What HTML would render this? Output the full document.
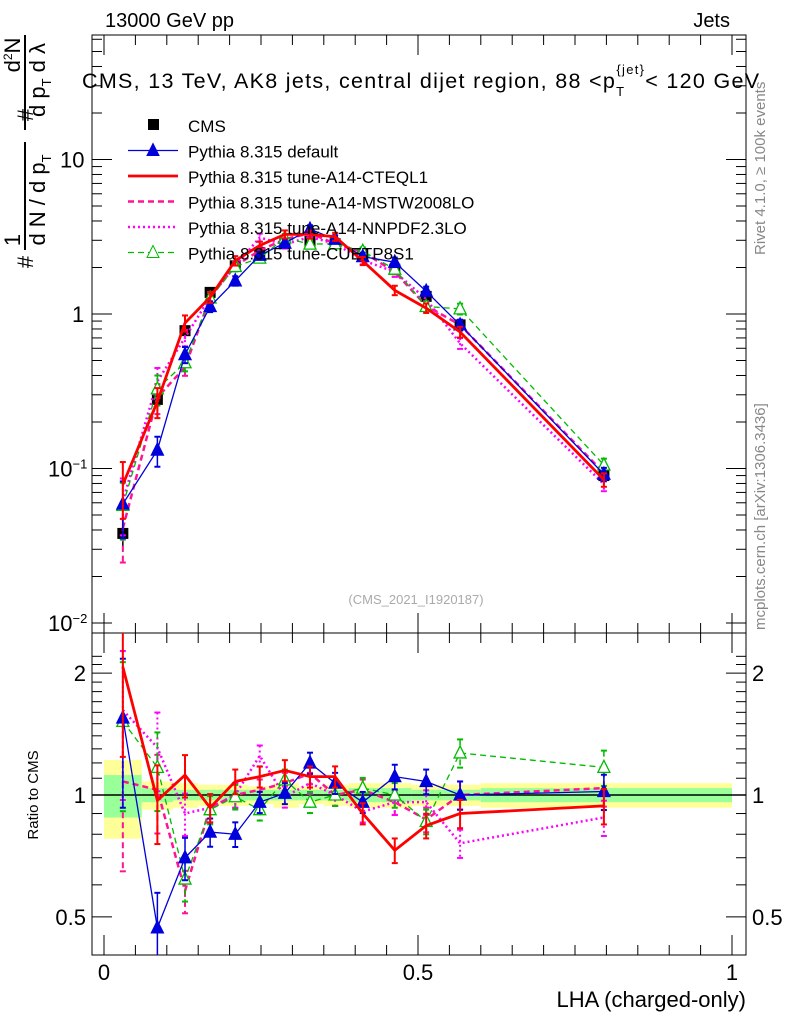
<!DOCTYPE html>
<html><head><meta charset="utf-8"><style>
body{margin:0;background:#fff;font-family:"Liberation Sans",sans-serif}
svg text{font-family:"Liberation Sans",sans-serif}
</style></head><body>
<svg id="c" width="786" height="1024" xmlns="http://www.w3.org/2000/svg"></svg>
<script>
const xs=[0.03,0.085,0.129,0.169,0.209,0.248,0.288,0.328,0.368,0.412,0.463,0.513,0.567,0.796];
const edges=[0,0.06,0.11,0.15,0.19,0.23,0.27,0.31,0.35,0.39,0.44,0.49,0.54,0.6,1.0];
const cms=[0.038,0.28,0.78,1.38,2.05,2.5,2.85,2.95,2.85,2.45,1.95,1.3,0.85,0.09];
const bandY=[0.22,0.08,0.07,0.06,0.06,0.05,0.07,0.05,0.06,0.07,0.07,0.06,0.06,0.07];
const bandG=[0.12,0.04,0.03,0.03,0.03,0.03,0.03,0.03,0.03,0.04,0.04,0.03,0.03,0.04];
const rBlue=[1.55,0.47,0.70,0.81,0.80,0.96,1.01,1.2,1.07,0.96,1.11,1.08,1.0,1.02];
const rRed=[2.07,0.97,1.12,0.93,1.08,1.11,1.15,1.11,1.11,0.90,0.73,0.84,0.90,0.94];
const rMstw=[1.08,1.03,0.58,0.93,1.0,1.03,1.07,1.13,1.0,1.03,0.96,0.87,1.0,1.04];
const rNnpdf=[1.62,1.31,0.9,0.93,1.0,1.25,0.99,1.07,1.0,0.91,0.96,0.96,0.76,0.88];
const rGreen=[1.52,1.17,0.62,0.92,0.99,0.92,1.09,0.96,1.0,1.04,1.0,0.86,1.27,1.17];
const errs=[0.4,0.22,0.12,0.08,0.07,0.06,0.06,0.06,0.06,0.06,0.07,0.07,0.08,0.1];
const S=document.getElementById('c');const NS='http://www.w3.org/2000/svg';
function el(t,a,txt){const e=document.createElementNS(NS,t);for(const k in a)e.setAttribute(k,a[k]);if(txt!==undefined)e.textContent=txt;S.appendChild(e);return e;}
const X=v=>104+628*v;
const YM=v=>314-154.5*Math.log10(v);
const YR=v=>795-405*Math.log10(v);
const L=92,R=746,T1=35,B1=633,B2=955;
for(let i=0;i<cms.length;i++){
 let e=el('rect',{x:X(edges[i]),y:YR(1+bandY[i]),width:X(edges[i+1])-X(edges[i]),height:YR(1-bandY[i])-YR(1+bandY[i]),fill:'#ffff99'});
 
 e=el('rect',{x:X(edges[i]),y:YR(1+bandG[i]),width:X(edges[i+1])-X(edges[i]),height:YR(1-bandG[i])-YR(1+bandG[i]),fill:'#99ff99'});
 
}
el('line',{x1:L,x2:R,y1:YR(1),y2:YR(1),stroke:'#000','stroke-width':1.5});
el('rect',{x:L,y:T1,width:R-L,height:B1-T1,fill:'none',stroke:'#000'});
el('rect',{x:L,y:B1,width:R-L,height:B2-B1,fill:'none',stroke:'#000'});
for(let d=-2;d<=1;d++){for(let m=1;m<10;m++){const v=m*Math.pow(10,d);const y=YM(v);if(y<T1||y>B1)continue;const l=m==1?20:10;
 el('line',{x1:L,x2:L+l,y1:y,y2:y,stroke:'#000'});el('line',{x1:R,x2:R-l,y1:y,y2:y,stroke:'#000'});}}
const ytl=[['10<tspan dy="-8" font-size="13">−2</tspan>',0.01],['10<tspan dy="-8" font-size="13">−1</tspan>',0.1],['1',1],['10',10]];
ytl.forEach(t=>{const e=el('text',{x:t[1]<0.5?48:(t[1]==1?72:60),y:YM(t[1])+8,'font-size':22});e.innerHTML=t[0];});
[0.5,0.6,0.7,0.8,0.9,1,1.1,1.2,1.3,1.4,1.5,1.6,1.7,1.8,1.9,2,2.1,2.2].forEach(v=>{const y=YR(v);const l=(v==0.5||v==1||v==2)?20:10;
 el('line',{x1:L,x2:L+l,y1:y,y2:y,stroke:'#000'});el('line',{x1:R,x2:R-l,y1:y,y2:y,stroke:'#000'});});
[[0.5,'0.5'],[1,'1'],[2,'2']].forEach(t=>{el('text',{x:L-6,y:YR(t[0])+8,'font-size':22,'text-anchor':'end'},t[1]);el('text',{x:R+6,y:YR(t[0])+8,'font-size':22},t[1]);});
for(let v=0;v<=1.0001;v+=0.05){const big=Math.abs(v*2-Math.round(v*2))<1e-6;const l=big?20:10;
 el('line',{x1:X(v),x2:X(v),y1:B2,y2:B2-l,stroke:'#000'});el('line',{x1:X(v),x2:X(v),y1:B1,y2:B1-l,stroke:'#000'});el('line',{x1:X(v),x2:X(v),y1:T1,y2:T1+l,stroke:'#000'});el('line',{x1:X(v),x2:X(v),y1:B1,y2:B1+l,stroke:'#000'});}
[[0,'0'],[0.5,'0.5'],[1,'1']].forEach(t=>el('text',{x:X(t[0]),y:980,'font-size':22,'text-anchor':'middle'},t[1]));
const series=[
 {r:rMstw,c:'#ff1493',w:2.5,d:'6,4',m:'none',n:'mstw'},
 {r:rNnpdf,c:'#ff00ff',w:2.5,d:'2,3',m:'none',n:'nnpdf'},
 {r:rGreen,c:'#00bb00',w:1.3,d:'6,4',m:'open',n:'cuetp'},
 {r:rBlue,c:'#0000dd',w:1.3,d:'',m:'tri',n:'default'},
 {r:rRed,c:'#ff0000',w:2.8,d:'',m:'none',n:'cteql1'}];
function draw(Y,vals,s,panel){
 const pts=vals.map((v,i)=>X(xs[i])+','+Y(v)).join(' ');
 const pl=el('polyline',{points:pts,fill:'none',stroke:s.c,'stroke-width':s.w,'stroke-dasharray':s.d});
 
 vals.forEach((v,i)=>{const e=errs[i];const y1=Y(v*(1+e)),y2=Y(Math.max(v*(1-e),1e-4));
  el('line',{x1:X(xs[i]),x2:X(xs[i]),y1:y1,y2:y2,stroke:s.c,'stroke-width':s.w>2?2:1.5,'stroke-dasharray':s.d});
  el('line',{x1:X(xs[i])-3,x2:X(xs[i])+3,y1:y1,y2:y1,stroke:s.c,'stroke-width':2});
  el('line',{x1:X(xs[i])-3,x2:X(xs[i])+3,y1:y2,y2:y2,stroke:s.c,'stroke-width':2});
  if(s.m!='none'){const x=X(xs[i]),y=Y(v);const t=el('polygon',{points:`${x},${y-7} ${x-6},${y+5} ${x+6},${y+5}`,fill:s.m=='tri'?s.c:'#fff',stroke:s.c,'stroke-width':1.3});
   }
 });
}
cms.forEach((v,i)=>{const x=X(xs[i]),y=YM(v);el('line',{x1:x,x2:x,y1:YM(v*(1+errs[i]*0.6)),y2:YM(v*(1-errs[i]*0.6)),stroke:'#000','stroke-width':1.5});
 const r=el('rect',{x:x-5.5,y:y-5.5,width:11,height:11,fill:'#000'});});
series.forEach(s=>{draw(YM,cms.map((c,i)=>c*s.r[i]),s,'main');});
const clip=el('clipPath',{id:'cr'});const cr=document.createElementNS(NS,'rect');cr.setAttribute('x',L);cr.setAttribute('y',B1);cr.setAttribute('width',R-L);cr.setAttribute('height',B2-B1);clip.appendChild(cr);
const g0=S.childElementCount;
series.forEach(s=>draw(YR,s.r,s,'ratio'));
const gg=document.createElementNS(NS,'g');gg.setAttribute('clip-path','url(#cr)');
while(S.childElementCount>g0)gg.insertBefore(S.lastChild,gg.firstChild);S.appendChild(gg);
const leg=[['CMS','sq','#000','',0],['Pythia 8.315 default','tri','#0000dd','',1.3],['Pythia 8.315 tune-A14-CTEQL1','none','#ff0000','',2.8],['Pythia 8.315 tune-A14-MSTW2008LO','none','#ff1493','6,4',2.5],['Pythia 8.315 tune-A14-NNPDF2.3LO','none','#ff00ff','2,3',2.5],['Pythia 8.315 tune-CUETP8S1','open','#00bb00','6,4',1.3]];
leg.forEach((l,i)=>{const y=125+25.5*i;
 if(l[1]=='sq')el('rect',{x:148,y:y-6,width:11,height:11,fill:'#000'});
 else{el('line',{x1:128,x2:178,y1:y,y2:y,stroke:l[2],'stroke-width':l[4],'stroke-dasharray':l[3]});
  if(l[1]!='none')el('polygon',{points:`153,${y-7} 147,${y+5} 159,${y+5}`,fill:l[1]=='tri'?l[2]:'#fff',stroke:l[2]});}
 const t=el('text',{x:188,y:y+7,'font-size':17},l[0]);});
el('text',{x:105,y:27,'font-size':20},'13000 GeV pp');
el('text',{x:730,y:27,'font-size':20,'text-anchor':'end'},'Jets');
const tt=el('text',{x:82,y:88,'font-size':21.5,'letter-spacing':'1.3'});tt.innerHTML='CMS, 13 TeV, AK8 jets, central dijet region, 88 &lt;p<tspan dy="8" font-size="13">T</tspan><tspan dx="-9" dy="-22" font-size="13">{jet}</tspan><tspan dy="14">&lt; 120 GeV</tspan>';

el('text',{x:416,y:604,'font-size':13,fill:'#aaa','text-anchor':'middle'},'(CMS_2021_I1920187)');
el('text',{x:746,y:1007,'font-size':22,'text-anchor':'end'},'LHA (charged-only)');
el('text',{x:0,y:0,'font-size':15,transform:'translate(38,795) rotate(-90)','text-anchor':'middle'},'Ratio to CMS');
el('text',{x:0,y:0,'font-size':15,fill:'#888',transform:'translate(765,255) rotate(-90)'},'Rivet 4.1.0, ≥ 100k events');
el('text',{x:0,y:0,'font-size':15,fill:'#888',transform:'translate(765,630) rotate(-90)'},'mcplots.cern.ch [arXiv:1306.3436]');
function rt(x,y,s,html,fs){const e=el('text',{x:0,y:0,'font-size':fs||22,transform:`translate(${x},${y}) rotate(-90)`,'text-anchor':'middle'});e.innerHTML=html;return e;}
rt(33,262,0,'#');rt(33,115,0,'#');
rt(20,240,0,'1');
rt(45,200,0,'d N / d p<tspan font-size="13" dy="6">T</tspan>');
el('line',{x1:25,x2:25,y1:142,y2:250,stroke:'#000','stroke-width':2});
rt(20,55,0,'d<tspan font-size="12" dy="-8">2</tspan><tspan dy="8">N</tspan>');
rt(45,80,0,'d p<tspan font-size="13" dy="6">T</tspan><tspan dy="-6"> d λ</tspan>');
el('line',{x1:25,x2:25,y1:35,y2:130,stroke:'#000','stroke-width':2});
</script>
</body></html>
